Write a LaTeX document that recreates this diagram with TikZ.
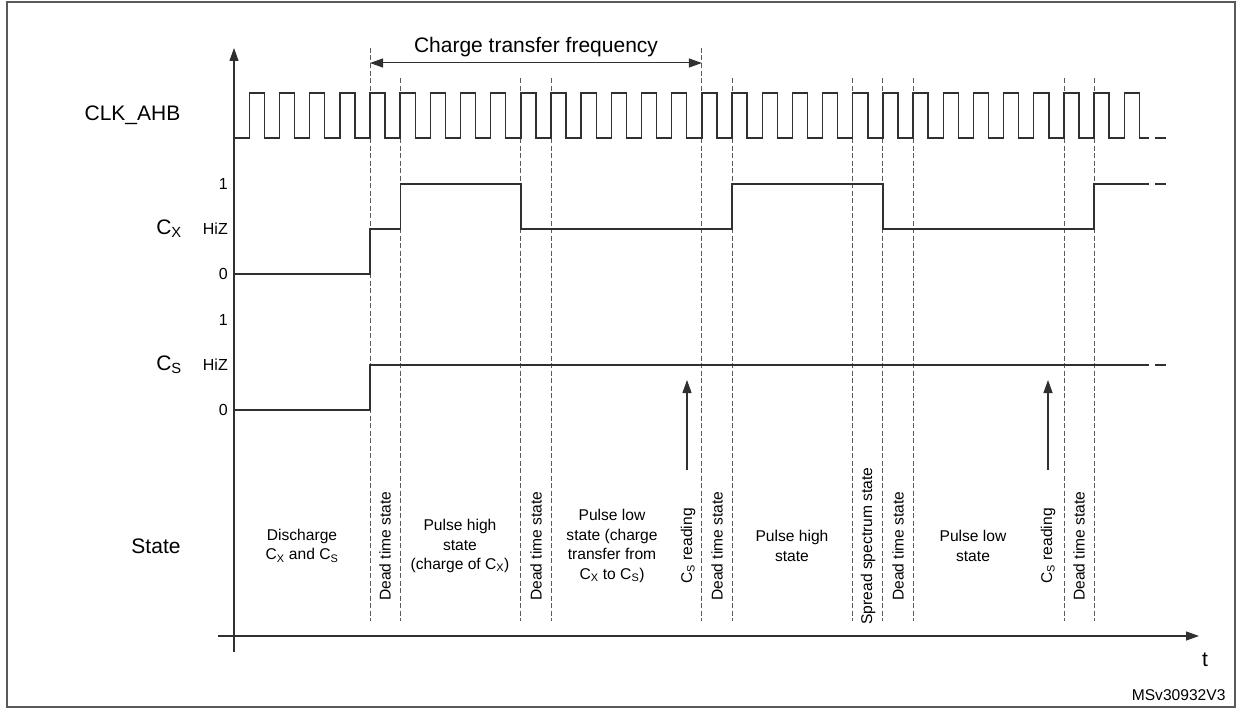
\documentclass[tikz,border=0pt]{standalone}
\usepackage{fontspec}
\setmainfont{Liberation Sans}
\usetikzlibrary{arrows.meta}

\definecolor{ink}{HTML}{303030}
\definecolor{cutgray}{HTML}{5A5A5A}

\tikzset{
  wave/.style={ink,line width=1.4pt},
  cut/.style={cutgray,line width=1pt,dash pattern=on 5pt off 2.5pt},
  big/.style={font=\fontsize{21}{24}\selectfont},
  small/.style={font=\fontsize{15.6}{19.4}\selectfont,align=center},
  lvl/.style={font=\fontsize{16}{18}\selectfont,anchor=east,inner sep=0pt},
  tip/.style={-{Triangle[length=13pt,width=9pt]}},
}

\begin{document}
\begin{tikzpicture}[x=1pt,y=-1pt]
    \useasboundingbox (0,0) rectangle (1244,717);
    \draw[gray!70!black,line width=1.6pt] (7,2) rectangle (1235,707);
    % axes
    \draw[ink,line width=1.2pt,tip] (234,652) -- (234,48);
    \draw[ink,line width=1.2pt,tip] (218,636) -- (1199,636);
    \node[big] (t) at (1205,660) {t};
    \node[small,anchor=east] (ref) at (1229,695) {MSv30932V3};

    % dashed cuts at the clock edges
    \coordinate (f0) at (370,48);
    \coordinate (f1) at (701.9,48);
    \draw[cut] (f0) -- (370,621);
    \draw[cut] (f1) -- (701.9,621);
    \foreach \x in {400.2,520.8,551.0,732.0,852.7,882.9,913.0,1064.0,1094.1}
      \draw[cut] (\x,78) -- (\x,621);

    \draw[ink,line width=1pt,{Triangle[length=13pt,width=9pt]}-{Triangle[length=13pt,width=9pt]}] (370,63) -- (701.9,63);
    \node[big] (freq) at (536,47) {Charge transfer frequency};

    % clock
    \node[big] (clk) at (132.5,115) {CLK\_AHB};
    \draw[wave] (234,138) \foreach \k in {0,...,29} {
        -- ({249.3+\k*30.17},138) -- ({249.3+\k*30.17},93)
        -- ({264.4+\k*30.17},93) -- ({264.4+\k*30.17},138)} -- (1149,138);
    \draw[wave] (1155,138) -- (1166,138);

    % Cx
    \node[big] (cx) at (169,229) {C\textsubscript{X}};
    \node[lvl] (cx1) at (228,184) {1};
    \node[lvl] (cxz) at (228,229) {HiZ};
    \node[lvl] (cx0) at (228,274) {0};
    \draw[wave] (234,274) -- (370,274) -- (370,229) -- (400.2,229) -- (400.2,184)
      -- (520.8,184) -- (520.8,229) -- (732,229) -- (732,184) -- (882.9,184)
      -- (882.9,229) -- (1094.1,229) -- (1094.1,184) -- (1149,184);
    \draw[wave] (1155,184) -- (1166,184);

    % Cs
    \node[big] (cs) at (169,365) {C\textsubscript{S}};
    \node[lvl] (cs1) at (228,320) {1};
    \node[lvl] (csz) at (228,365) {HiZ};
    \node[lvl] (cs0) at (228,410) {0};
    \draw[wave] (234,410) -- (370,410) -- (370,365) -- (1149,365);
    \draw[wave] (1155,365) -- (1166,365);

    % Cs reading arrows
    \coordinate (r0) at (687,470);
    \coordinate (r1) at (1048,470);
    \draw[ink,line width=1.2pt,tip] (r0) -- (687,380);
    \draw[ink,line width=1.2pt,tip] (r1) -- (1048,380);

    % states
    \node[big] (state) at (156,546) {State};
    \node[small] (s0) at (302,546) {Discharge\\C\textsubscript{X} and C\textsubscript{S}};
    \node[small,rotate=90] (s1) at (385,546) {Dead time state};
    \node[small] (s2) at (460,546) {Pulse high\\state\\(charge of C\textsubscript{X})};
    \node[small,rotate=90] (s3) at (536,546) {Dead time state};
    \node[small] (s4) at (612,546) {Pulse low\\state (charge\\transfer from\\C\textsubscript{X} to C\textsubscript{S})};
    \node[small,rotate=90] (s5) at (688,546) {C\textsubscript{S} reading};
    \node[small,rotate=90] (s6) at (717,546) {Dead time state};
    \node[small] (s7) at (792,546) {Pulse high\\state};
    \node[small,rotate=90] (s8) at (868,546) {Spread spectrum state};
    \node[small,rotate=90] (s9) at (898,546) {Dead time state};
    \node[small] (s10) at (973,546) {Pulse low\\state};
    \node[small,rotate=90] (s11) at (1048,546) {C\textsubscript{S} reading};
    \node[small,rotate=90] (s12) at (1079,546) {Dead time state};
\end{tikzpicture}
\end{document}
